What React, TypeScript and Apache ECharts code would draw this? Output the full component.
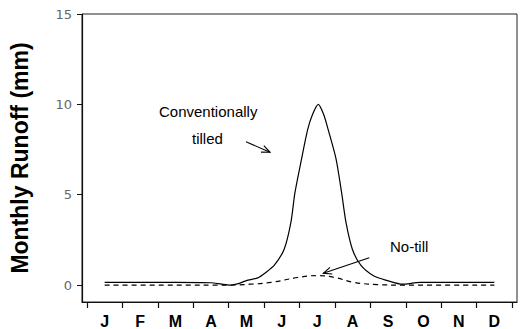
import React, { useEffect, useRef } from "react";
import * as echarts from "echarts";

const monthLabels = ["J", "F", "M", "A", "M", "J", "J", "A", "S", "O", "N", "D"];
const yTicks = [0, 5, 10, 15];

// month position (0 = start of Jan) and runoff (mm)
const conventionalMonth = [0.5, 1.5, 2.5, 3.5, 3.8, 4.05, 4.3, 4.5, 4.82, 5.05, 5.29, 5.57, 5.76, 5.87, 6.06, 6.23, 6.37, 6.53, 6.68, 6.81, 7.03, 7.19, 7.31, 7.49, 7.73, 8.1, 8.48, 8.9, 9.4, 10.5, 11.5];
const conventionalRunoff = [0.15, 0.15, 0.15, 0.13, 0.05, 0.0, 0.1, 0.25, 0.4, 0.7, 1.1, 2.0, 3.5, 5.1, 7.0, 8.6, 9.45, 10.0, 9.45, 8.6, 7.0, 5.1, 3.5, 2.0, 1.1, 0.5, 0.25, 0.05, 0.15, 0.15, 0.15];

const noTillMonth = [0.5, 2.5, 4.0, 4.6, 5.2, 5.95, 6.5, 7.0, 7.54, 8.2, 9.0, 11.5];
const noTillRunoff = [0, 0, 0, 0.05, 0.15, 0.42, 0.53, 0.42, 0.15, 0.03, 0, 0];

function arrowHead(x: number, y: number, fx: number, fy: number, len: number, ang: number) {
  const dx = x - fx, dy = y - fy;
  const d = Math.hypot(dx, dy);
  const ux = dx / d, uy = dy / d;
  const c = Math.cos(ang), s = Math.sin(ang);
  const p1 = [x - len * (ux * c - uy * s), y - len * (uy * c + ux * s)];
  const p2 = [x - len * (ux * c + uy * s), y - len * (uy * c - ux * s)];
  return [p1, [x, y], p2];
}

export default function App() {
  const ref = useRef<HTMLDivElement>(null);
  useEffect(() => {
    if (!ref.current) return;
    const chart = echarts.init(ref.current, null, { renderer: "svg" });
    const font = "'Liberation Sans', Arial, Helvetica, sans-serif";
    const a1 = { x1: 246, y1: 141.7, x2: 270, y2: 152.3 };
    const a2 = { x1: 369.3, y1: 257.7, x2: 323.3, y2: 273.3 };
    chart.setOption({
      animation: false,
      backgroundColor: "#fff",
      grid: {
        left: 80, right: 3, top: 14, bottom: 25,
        show: true, borderColor: "#222", borderWidth: 1,
      },
      xAxis: {
        type: "value",
        min: -0.14,
        max: 12.14,
        axisLine: { show: true, onZero: false, lineStyle: { color: "#111", width: 1.2 } },
        axisTick: { show: true, length: 6, lineStyle: { color: "#111", width: 1.2 }, customValues: [0, 1, 2, 3, 4, 5, 6, 7, 8, 9, 10, 11, 12] },
        axisLabel: {
          customValues: [0.5, 1.5, 2.5, 3.5, 4.5, 5.5, 6.5, 7.5, 8.5, 9.5, 10.5, 11.5],
          formatter: (v: number) => monthLabels[Math.floor(v)],
          color: "#000", fontSize: 16, fontWeight: "bold", fontFamily: font, margin: 11,
        },
        splitLine: { show: false },
      },
      yAxis: {
        type: "value",
        min: -0.934,
        max: 15,
        name: "Monthly Runoff (mm)",
        nameLocation: "middle",
        nameGap: 51,
        nameTextStyle: { fontSize: 23, fontWeight: "bold", color: "#000", fontFamily: font },
        axisLine: { show: true, onZero: false, lineStyle: { color: "#111", width: 1.2 } },
        axisTick: { show: true, length: 5, lineStyle: { color: "#111" }, customValues: yTicks },
        axisLabel: { customValues: yTicks, color: "#666", fontSize: 13, fontFamily: "'DejaVu Sans', sans-serif", margin: 10 },
        splitLine: { show: false },
      },
      series: [
        {
          type: "line",
          data: conventionalMonth.map((m, i) => [m, conventionalRunoff[i]]),
          smooth: 0.25,
          showSymbol: false,
          lineStyle: { color: "#000", width: 1.2 },
        },
        {
          type: "line",
          data: noTillMonth.map((m, i) => [m, noTillRunoff[i]]),
          smooth: 0.4,
          showSymbol: false,
          lineStyle: { color: "#000", width: 1.2, type: [5, 4] },
        },
      ],
      graphic: [
        { type: "text", left: 159, top: 104, style: { text: "Conventionally", font: `15px ${font}`, fill: "#000" } },
        { type: "text", left: 192, top: 131, style: { text: "tilled", font: `15px ${font}`, fill: "#000" } },
        { type: "text", left: 390, top: 239, style: { text: "No-till", font: `15px ${font}`, fill: "#000" } },
        { type: "line", shape: a1, style: { stroke: "#000", lineWidth: 1.1 } },
        { type: "polyline", shape: { points: arrowHead(a1.x2, a1.y2, a1.x1, a1.y1, 9, 0.4) }, style: { stroke: "#000", fill: null, lineWidth: 1.1 } },
        { type: "line", shape: a2, style: { stroke: "#000", lineWidth: 1.1 } },
        { type: "polyline", shape: { points: arrowHead(a2.x2, a2.y2, a2.x1, a2.y1, 9, 0.4) }, style: { stroke: "#000", fill: null, lineWidth: 1.1 } },
      ],
    });
    return () => chart.dispose();
  }, []);
  return <div ref={ref} style={{ width: 520, height: 329, position: "absolute", left: 0, top: 0 }} />;
}
